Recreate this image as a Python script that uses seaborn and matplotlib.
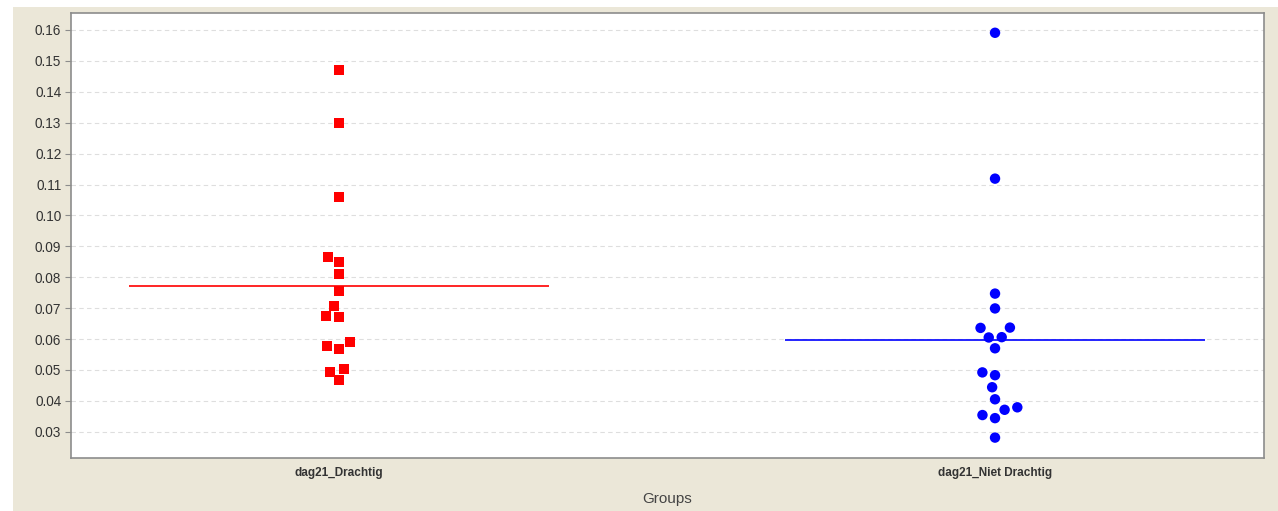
import matplotlib
matplotlib.use("Agg")
import matplotlib.pyplot as plt
from matplotlib.patches import Rectangle
import numpy as np
import pandas as pd
import seaborn as sns

groups = ["dag21_Drachtig", "dag21_Niet Drachtig"]

drachtig = [0.1471, 0.1298, 0.1060, 0.0866, 0.0850, 0.0810, 0.0754, 0.0708,
            0.0672, 0.0675, 0.0589, 0.0569, 0.0576, 0.0502, 0.0493, 0.0467]
niet_drachtig = [0.1591, 0.1119, 0.0747, 0.0699, 0.0637, 0.0636, 0.0606, 0.0605,
                 0.0570, 0.0492, 0.0483, 0.0444, 0.0405, 0.0379, 0.0371, 0.0354,
                 0.0344, 0.0281]

y_ticks = [0.03, 0.04, 0.05, 0.06, 0.07, 0.08, 0.09, 0.10, 0.11, 0.12, 0.13,
           0.14, 0.15, 0.16]

df = pd.DataFrame({
    "group": [groups[0]] * len(drachtig) + [groups[1]] * len(niet_drachtig),
    "value": drachtig + niet_drachtig,
})

sns.set_style("white")
plt.rcParams["font.family"] = ["Liberation Sans", "DejaVu Sans"]

fig = plt.figure(figsize=(12.78, 5.11), dpi=100, facecolor="white")
# beige panel behind the plot
fig.patches.append(Rectangle((13 / 1278, 0), 1 - 13 / 1278, 1 - 7 / 511,
                             transform=fig.transFigure, facecolor="#ebe7d8",
                             edgecolor="none", zorder=-10))
ax = fig.add_axes([71 / 1278, 1 - 458 / 511, (1264 - 71) / 1278, (458 - 13) / 511])
ax.set_facecolor("white")

# an invisible edge widens the swarm spacing without enlarging the markers
styles = {groups[0]: ("s", "#ff0000", 7.2), groups[1]: ("o", "#0000ff", 7.5)}
for g in groups:
    marker, color, size = styles[g]
    sns.swarmplot(data=df[df["group"] == g], x="group", y="value", order=groups,
                  marker=marker, color=color, size=size, linewidth=1.4,
                  edgecolor="none", ax=ax, zorder=3)

# group mean lines
for i, g in enumerate(groups):
    m = df.loc[df["group"] == g, "value"].mean()
    ax.hlines(m, i - 0.32, i + 0.32, color=styles[g][1], linewidth=1.2, zorder=2)

ax.set_xlim(-0.4085, 1.41)
ax.set_ylim(0.0215, 0.1655)
ax.set_yticks(y_ticks)
ax.set_yticklabels([f"{t:.2f}" for t in y_ticks])
ax.yaxis.grid(True, linestyle=(0, (4, 3)), color="#dedede", linewidth=0.8)
ax.set_axisbelow(True)

for s in ax.spines.values():
    s.set_color("#8c8c8c")
    s.set_linewidth(1.2)

ax.tick_params(axis="y", which="major", left=True, length=4, width=0.8,
               color="#8c8c8c", labelsize=9.8, labelcolor="#333333", pad=3)
ax.tick_params(axis="x", bottom=False, labelsize=8.5, labelcolor="#333333", pad=3)
for lbl in ax.get_xticklabels():
    lbl.set_fontweight("bold")
ax.set_ylabel("")
ax.set_xlabel("Groups", fontsize=11, color="#444444", labelpad=9)

fig.savefig("out.png", dpi=100, facecolor=fig.get_facecolor())
